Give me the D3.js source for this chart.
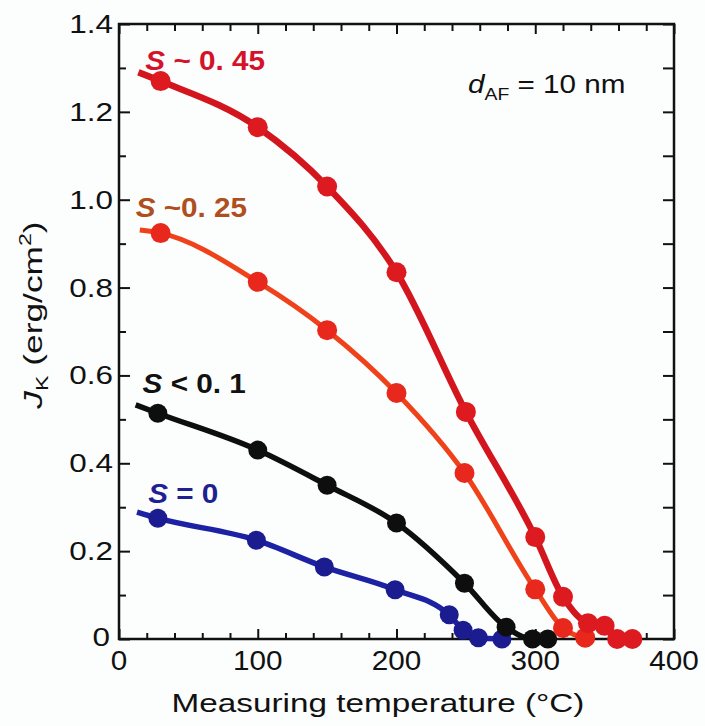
<!DOCTYPE html>
<html>
<head>
<meta charset="utf-8">
<script src="https://cdn.jsdelivr.net/npm/d3@7"></script>
<style>
  html, body { margin: 0; padding: 0; background: #fcfdfd; }
  svg { display: block; font-family: "Liberation Sans", Arial, sans-serif; }
</style>
</head>
<body>
<main></main>
<script>
"use strict";

// values (temperature in °C, J_K in erg/cm^2)
const seriesNames = ["S = 0", "S < 0. 1", "S ~0. 25", "S ~ 0. 45"];

const tBlue = [28, 99, 148, 199, 238, 248, 259, 276];
const jBlue = [0.275, 0.225, 0.164, 0.112, 0.055, 0.02, 0.003, 0];

const tBlack = [28, 100, 150, 200, 249, 279, 298, 309];
const jBlack = [0.514, 0.43, 0.35, 0.264, 0.127, 0.027, 0, 0];

const tOrange = [30, 100, 150, 200, 249, 300, 320, 336];
const jOrange = [0.924, 0.813, 0.703, 0.56, 0.378, 0.113, 0.025, 0.003];

const tRed = [30, 100, 150, 200, 250, 300, 320, 338, 350, 359, 370];
const jRed = [1.27, 1.165, 1.03, 0.835, 0.517, 0.232, 0.096, 0.036, 0.03, 0, 0];

// where each fitted curve starts (left of the first measured point)
const fitStartT = [13, 12, 15, 14];
const fitStartJ = [0.289, 0.533, 0.931, 1.29];

const xTicks = [0, 100, 200, 300, 400];
const yTicks = [0, 0.2, 0.4, 0.6, 0.8, 1.0, 1.2, 1.4];
const yTickLabels = ["0", "0.2", "0.4", "0.6", "0.8", "1.0", "1.2", "1.4"];

//Dimensions
const w = 705;
const h = 726;
const plot = { left: 119, right: 674, top: 24, bottom: 639 };

const lineColors = ["#1d22a4", "#0e0e0e", "#f0421a", "#d3151d"];
const dotColors = ["#1a1c90", "#0e0e0e", "#e8281c", "#dc1a1f"];
const labelColors = ["#1e2290", "#111111", "#b04f1e", "#d4132a"];
const lineWidths = [5.5, 5.5, 5, 6.5];
const dotRadius = [9.5, 9.5, 10, 10];

// label anchor positions in data units
const labelT = [21, 17, 12, 19];
const labelJ = [0.31, 0.56, 0.96, 1.295];

// the source font is set wider than Liberation Sans, so text is stretched along its line
const stretchTick = 1.12;
const stretchTitle = 1.28;

const svg = d3.select("main").append("svg").attr("width", w).attr("height", h);

const x = d3.scaleLinear().domain([0, 400]).range([plot.left, plot.right]);
const y = d3.scaleLinear().domain([0, 1.4]).range([plot.bottom, plot.top]);

const series = [
  { t: tBlue, j: jBlue },
  { t: tBlack, j: jBlack },
  { t: tOrange, j: jOrange },
  { t: tRed, j: jRed },
];

//Axes: ticks inward on all four sides
const minorX = d3.range(0, 401, 20);
const minorY = d3.range(0, 1.401, 0.1);

const axisG = svg.append("g").attr("class", "axes");

const axBottom = axisG.append("g").attr("transform", `translate(0,${plot.bottom})`);
axBottom.call(d3.axisBottom(x).tickValues(minorX).tickSize(-6).tickFormat(""));
axBottom.call((g) => g.selectAll(".tick line").filter((d) => d % 100 === 0).attr("y2", -10));

const axTop = axisG.append("g").attr("transform", `translate(0,${plot.top})`);
axTop.call(d3.axisTop(x).tickValues(minorX).tickSize(-7).tickFormat(""));
axTop.call((g) => g.selectAll(".tick line").filter((d) => d % 100 === 0).attr("y2", 10));

const axLeft = axisG.append("g").attr("transform", `translate(${plot.left},0)`);
axLeft.call(d3.axisLeft(y).tickValues(minorY).tickSize(-7).tickFormat(""));
axLeft.call((g) =>
  g.selectAll(".tick line").filter((d) => Math.abs(d * 5 - Math.round(d * 5)) < 1e-6).attr("x2", 11)
);

const axRight = axisG.append("g").attr("transform", `translate(${plot.right},0)`);
axRight.call(d3.axisRight(y).tickValues(minorY).tickSize(-11).tickFormat(""));

axisG.selectAll(".domain").remove();
axisG.selectAll(".tick line").attr("stroke", "#111").attr("stroke-width", 2);

svg
  .append("rect")
  .attr("x", plot.left)
  .attr("y", plot.top)
  .attr("width", plot.right - plot.left)
  .attr("height", plot.bottom - plot.top)
  .attr("fill", "none")
  .attr("stroke", "#111")
  .attr("stroke-width", 2.5);

//Tick labels
svg
  .append("g")
  .selectAll("text")
  .data(xTicks)
  .enter()
  .append("text")
  .attr("transform", (d) => `translate(${x(d)},670) scale(1.06,1)`)
  .attr("text-anchor", "middle")
  .attr("font-size", 28)
  .attr("fill", "#111")
  .text((d) => d);

svg
  .append("g")
  .selectAll("text")
  .data(yTicks)
  .enter()
  .append("text")
  .attr("transform", (d) => `translate(${d === 0 ? 110 : 113},${d === 0 ? y(d) + 7 : y(d) + 9}) scale(${stretchTick * 1.08},1)`)
  .attr("text-anchor", "end")
  .attr("font-size", 26)
  .attr("fill", "#111")
  .text((d, i) => yTickLabels[i]);

//Axis titles
svg
  .append("text")
  .attr("transform", `translate(378,712) scale(${stretchTitle},1)`)
  .attr("text-anchor", "middle")
  .attr("font-size", 26)
  .attr("fill", "#111")
  .text("Measuring temperature (°C)");

const yTitle = svg
  .append("text")
  .attr("transform", `translate(42, 315) rotate(-90) scale(1.36,1)`)
  .attr("text-anchor", "middle")
  .attr("font-size", 26)
  .attr("fill", "#111");
yTitle.append("tspan").attr("font-style", "italic").text("J");
yTitle.append("tspan").attr("font-size", 17).attr("dy", 6).text("K");
yTitle.append("tspan").attr("dy", -6).text(" (erg/cm");
yTitle.append("tspan").attr("font-size", 17).attr("dy", -11).text("2");
yTitle.append("tspan").attr("dy", 11).text(")");

//Curves and points
const line = d3
  .line()
  .x((d) => x(d[0]))
  .y((d) => y(d[1]))
  .curve(d3.curveMonotoneX);

const curves = svg.append("g").attr("class", "curves");

series.forEach((s, i) => {
  const pts = s.t.map((t, k) => [t, s.j[k]]);
  const fit = [[fitStartT[i], fitStartJ[i]]].concat(pts);

  const g = curves.append("g");

  g.append("path")
    .datum(fit)
    .attr("d", line)
    .attr("fill", "none")
    .attr("stroke", lineColors[i])
    .attr("stroke-width", lineWidths[i])
    .attr("stroke-linejoin", "round");

  g.selectAll("circle")
    .data(pts)
    .enter()
    .append("circle")
    .attr("cx", (d) => x(d[0]))
    .attr("cy", (d) => y(d[1]))
    .attr("r", dotRadius[i])
    .attr("fill", dotColors[i]);
});

//Series labels
series.forEach((s, i) => {
  const name = seriesNames[i];
  const label = svg
    .append("text")
    .attr("transform", `translate(${x(labelT[i])},${y(labelJ[i])}) scale(1.1,1)`)
    .attr("font-size", 27)
    .attr("font-weight", "bold")
    .attr("fill", labelColors[i]);
  label.append("tspan").attr("font-style", "italic").text(name.slice(0, 1));
  label.append("tspan").text(name.slice(1));
});

//Thickness annotation
const note = svg
  .append("text")
  .attr("transform", "translate(468,93) scale(1.14,1)")
  .attr("font-size", 26)
  .attr("fill", "#111");
note.append("tspan").attr("font-style", "italic").text("d");
note.append("tspan").attr("font-size", 17).attr("dy", 7).text("AF");
note.append("tspan").attr("dy", -7).text(" = 10 nm");
</script>
</body>
</html>
